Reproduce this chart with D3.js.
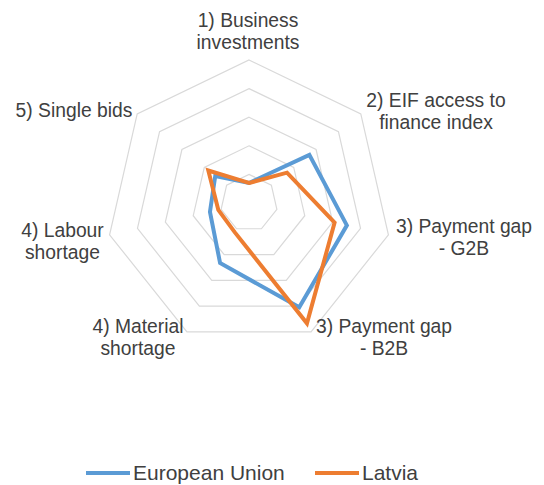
<!DOCTYPE html>
<html>
<head>
<meta charset="utf-8">
<script src="https://cdn.jsdelivr.net/npm/d3@7/dist/d3.min.js"></script>
<style>
  html, body { margin: 0; padding: 0; background: #fff; }
  svg { display: block; }
  text { font-family: Arial, "Liberation Sans", Helvetica, sans-serif; fill: #404040; }
</style>
</head>
<body>
<svg id="chart" width="544" height="485"></svg>
<script>
// ---- Data ----
const categories = [
  ["1) Business", "investments"],
  ["2) EIF access to", "finance index"],
  ["3) Payment gap", "- G2B"],
  ["3) Payment gap", "- B2B"],
  ["4) Material", "shortage"],
  ["4) Labour", "shortage"],
  ["5) Single bids"]
];
const euValues = [0.70, 2.70, 3.51, 4.05, 2.33, 1.40, 1.51];
const lvValues = [0.70, 1.70, 3.07, 4.67, 1.14, 1.10, 1.82];
const seriesNames = ["European Union", "Latvia"];
const ringTicks = [1, 2, 3, 4, 5];

// ---- Layout ----
const svg = d3.select("#chart");
const cx = 249, cy = 203, R = 143;
const n = categories.length;
const r = d3.scaleLinear().domain([0, 5]).range([0, R]);
const angle = d3.scaleLinear().domain([0, n]).range([0, 2 * Math.PI]);
const colors = ["#5b9bd5", "#ed7d31"];

const g = svg.append("g").attr("transform", `translate(${cx},${cy})`);

const pt = (i, v) => [r(v) * Math.sin(angle(i)), -r(v) * Math.cos(angle(i))];

// grid rings
ringTicks.forEach(t => {
  g.append("path")
    .attr("d", d3.line()(d3.range(n).map(i => pt(i, t))) + "Z")
    .attr("fill", "none")
    .attr("stroke", "#d9d9d9")
    .attr("stroke-width", 1.2);
});

// series
const radial = d3.lineRadial()
  .angle((d, i) => angle(i))
  .radius(d => r(d))
  .curve(d3.curveLinearClosed);

[euValues, lvValues].forEach((vals, k) => {
  g.append("path")
    .attr("d", radial(vals))
    .attr("fill", "none")
    .attr("stroke", colors[k])
    .attr("stroke-width", 4)
    .attr("stroke-linejoin", "miter");
});

// category labels (layout: centre x and first baseline y)
const labelLayout = [
  [248, 27], [436, 107], [464, 233], [384, 333],
  [138, 333], [62.5, 237], [74, 117]
];
const lineH = 21.7;
categories.forEach((lines, i) => {
  const t = svg.append("text")
    .attr("text-anchor", "middle")
    .attr("font-size", "19.3px");
  lines.forEach((ln, j) => {
    t.append("tspan")
      .attr("x", labelLayout[i][0])
      .attr("y", labelLayout[i][1] + j * lineH)
      .text(ln);
  });
});

// legend
const legendX = [86, 315];
seriesNames.forEach((name, k) => {
  const lg = svg.append("g").attr("transform", `translate(${legendX[k]},473)`);
  lg.append("line").attr("x1", 0).attr("x2", 44).attr("y1", 0).attr("y2", 0)
    .attr("stroke", colors[k]).attr("stroke-width", 4);
  lg.append("text").attr("x", 47).attr("y", 7.3)
    .attr("font-size", "21px").text(name);
});
</script>
</body>
</html>
